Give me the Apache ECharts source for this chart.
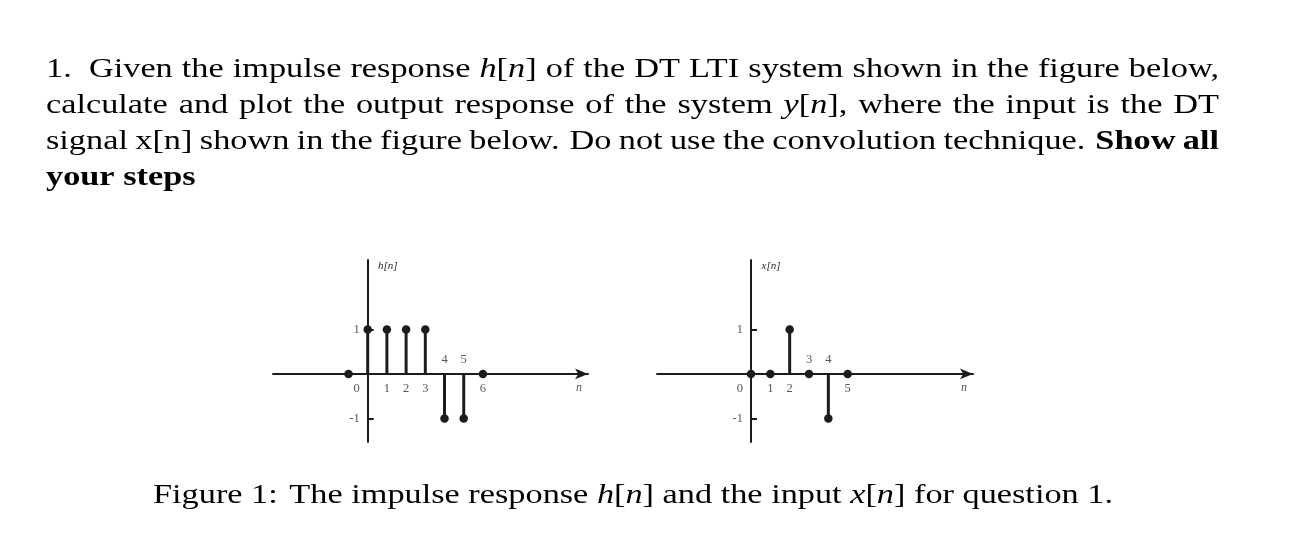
<!DOCTYPE html>
<html><head><meta charset="utf-8">
<script src="https://cdn.jsdelivr.net/npm/echarts@6/dist/echarts.min.js"></script>
<style>html,body{margin:0;padding:0;background:#fff}#c{width:1292px;height:552px}</style>
</head><body><div id="c"></div>
<script>
// ---- data ----
const hN = [-1, 0, 1, 2, 3, 4, 5, 6];
const hValues = [0, 1, 1, 1, 1, -1, -1, 0];
const xN = [0, 1, 2, 3, 4, 5];
const xValues = [0, 0, 1, 0, -1, 0];
const hTickPos = [0, 1, 2, 3, 4, 5, 6];
const hTickLabels = ['0', '1', '2', '3', '4', '5', '6'];
const xTickPos = [0, 1, 2, 3, 4, 5];
const xTickLabels = ['0', '1', '2', '3', '4', '5'];
const yTickValues = [-1, 1];
const yTickLabels = ['-1', '1'];
const hAxisName = 'h[n]';
const xAxisName = 'x[n]';
const nAxisName = 'n';
// question text: [text, style] tokens (r roman, i italic, b bold)
const line1 = [['1.   Given the impulse response ', 'r'], ['h', 'i'], ['[', 'r'], ['n', 'i'], ['] of the DT LTI system shown in the figure below,', 'r']];
const line2 = [['calculate and plot the output response of the system ', 'r'], ['y', 'i'], ['[', 'r'], ['n', 'i'], ['], where the input is the DT', 'r']];
const line3 = [['signal x[n] shown in the figure below.  Do not use the convolution technique.  ', 'r'], ['Show all', 'b']];
const line4 = [['your steps', 'b']];
const captionTokens = [['Figure 1:  The impulse response ', 'r'], ['h', 'i'], ['[', 'r'], ['n', 'i'], ['] and the input ', 'r'], ['x', 'i'], ['[', 'r'], ['n', 'i'], ['] for question 1.', 'r']];

// ---- style / layout ----
const FONT = '"Liberation Serif", "Times New Roman", serif';
const FS = 28;
const ink = '#1c1c1c';
const labelInk = '#2a2a2a';
const hAbove = [4, 5];
const xAbove = [3, 4];
const H_XMIN = -4.93, H_XMAX = 11.47, X_XMIN = -4.86, X_XMAX = 11.48;
const GAP_WEIGHT = { 1: 1, 2: 1.35, 3: 1.9 };

const ctx = document.createElement('canvas').getContext('2d');
function fontStr(st) {
  return (st === 'i' ? 'italic ' : '') + (st === 'b' ? 'bold ' : '') + FS + 'px ' + FONT;
}
function measureRuns(runs) {
  let w = 0;
  runs.forEach(t => { ctx.font = fontStr(t[1]); w += ctx.measureText(t[0]).width; });
  return w;
}
function toWords(tokens) {
  const words = []; let cur = null; let gap = 0;
  tokens.forEach(([text, st]) => {
    for (const ch of text) {
      if (ch === ' ') { if (cur) { words.push(cur); cur = null; } gap++; }
      else {
        if (!cur) { cur = { runs: [], gap: words.length ? (GAP_WEIGHT[gap] || gap) : 0, gapStyle: st }; gap = 0; }
        const last = cur.runs[cur.runs.length - 1];
        if (last && last[1] === st) last[0] += ch; else cur.runs.push([ch, st]);
      }
    }
  });
  if (cur) words.push(cur);
  return words;
}
const rich = {
  r: { fontFamily: FONT, fontSize: FS, fill: '#000' },
  i: { fontFamily: FONT, fontSize: FS, fontStyle: 'italic', fill: '#000' },
  b: { fontFamily: FONT, fontSize: FS, fontWeight: 'bold', fill: '#000' }
};
function wordEl(runs, x, yMid, g) {
  return {
    type: 'text', x: x, y: yMid, scaleX: g, scaleY: 1, silent: true,
    style: { text: runs.map(t => '{' + t[1] + '|' + t[0] + '}').join(''), rich: rich,
      align: 'left', verticalAlign: 'middle', fill: '#000' }
  };
}
const capWords = toWords(captionTokens);
function naturalWidth(words) {
  let w = 0;
  words.forEach(wd => { ctx.font = fontStr(wd.gapStyle); w += measureRuns(wd.runs) + wd.gap * ctx.measureText(' ').width; });
  return w;
}
const G = (1113 - 153) / naturalWidth(capWords);
function layoutLine(tokens, x0, x1, yMid, justify) {
  const words = toWords(tokens);
  const widths = words.map(wd => measureRuns(wd.runs) * G);
  const totalGap = words.reduce((a, wd) => a + wd.gap, 0);
  let unit;
  if (justify) unit = (x1 - x0 - widths.reduce((a, b) => a + b, 0)) / totalGap;
  else { ctx.font = fontStr(words[0].gapStyle); unit = ctx.measureText(' ').width * G; }
  const els = []; let x = x0;
  words.forEach((wd, i) => { x += wd.gap * unit; els.push(wordEl(wd.runs, x, yMid, G)); x += widths[i]; });
  return els;
}
const L = 46, R = 1219;
const graphics = [].concat(
  layoutLine(line1, L, R, 69.5, true),
  layoutLine(line2, L, R, 105.5, true),
  layoutLine(line3, L, R, 141.5, true),
  layoutLine(line4, L, R, 177.5, false),
  layoutLine(captionTokens, 153, 1113, 496, false)
);

function stemSeries(idx, ns, vals) {
  return [
    { type: 'bar', xAxisIndex: idx, yAxisIndex: idx, barWidth: 3, silent: true,
      itemStyle: { color: ink, opacity: 1 }, data: ns.map((n, i) => [n, vals[i]]) },
    { type: 'scatter', xAxisIndex: idx, yAxisIndex: idx, symbol: 'circle', symbolSize: 8.5, silent: true,
      itemStyle: { color: ink, opacity: 1 }, data: ns.map((n, i) => [n, vals[i]]), z: 5 }
  ];
}
const labelStyle = { show: true, formatter: p => p.name, fontFamily: FONT, fontSize: 12.5, color: labelInk };
function tickLabelSeries(idx, pos, labels, above, xMax) {
  const data = pos.map((n, i) => {
    const up = above.indexOf(n) >= 0;
    return { value: [n, 0], name: labels[i],
      label: { position: up ? 'top' : 'bottom', distance: 8, offset: n === 0 ? [-11, 0] : [0, 0] } };
  });
  yTickValues.forEach((v, i) => data.push({ value: [0, v], name: yTickLabels[i], label: { position: 'left', distance: 8 } }));
  data.push({ value: [xMax, 0], name: nAxisName,
    label: { position: 'bottom', distance: 8, offset: [-9, 0], fontStyle: 'italic', fontSize: 12 } });
  return { type: 'scatter', xAxisIndex: idx, yAxisIndex: idx, symbolSize: 0.1, silent: true,
    itemStyle: { color: 'transparent' }, data: data, label: labelStyle, z: 6 };
}
function xAxisCfg(idx, min, max) {
  return { type: 'value', gridIndex: idx, min: min, max: max,
    axisLine: { show: true, onZero: true, symbol: ['none', 'arrow'], symbolSize: [8, 13], lineStyle: { color: ink, width: 2 } },
    axisTick: { show: false }, axisLabel: { show: false }, splitLine: { show: false } };
}
function yAxisCfg(idx, name) {
  return { type: 'value', gridIndex: idx, min: -1.53, max: 2.56,
    axisLine: { show: true, onZero: true, lineStyle: { color: ink, width: 2 } },
    axisTick: { show: true, inside: true, length: 6, customValues: yTickValues, lineStyle: { color: ink, width: 2 } },
    axisLabel: { show: false },
    splitLine: { show: false },
    name: name, nameLocation: 'end', nameGap: -12,
    nameTextStyle: { fontFamily: FONT, fontStyle: 'italic', fontSize: 11, color: labelInk, padding: [0, 0, 0, 40] } };
}

const chart = echarts.init(document.getElementById('c'), null, { renderer: 'canvas' });
chart.setOption({
  animation: false,
  backgroundColor: '#fff',
  grid: [
    { left: 273, top: 260, width: 315, height: 182 },
    { left: 657, top: 260, width: 316, height: 182 }
  ],
  xAxis: [xAxisCfg(0, H_XMIN, H_XMAX), xAxisCfg(1, X_XMIN, X_XMAX)],
  yAxis: [yAxisCfg(0, hAxisName), yAxisCfg(1, xAxisName)],
  series: [].concat(
    stemSeries(0, hN, hValues),
    stemSeries(1, xN, xValues),
    [tickLabelSeries(0, hTickPos, hTickLabels, hAbove, H_XMAX),
     tickLabelSeries(1, xTickPos, xTickLabels, xAbove, X_XMAX)]
  ),
  graphic: graphics
});
</script></body></html>
